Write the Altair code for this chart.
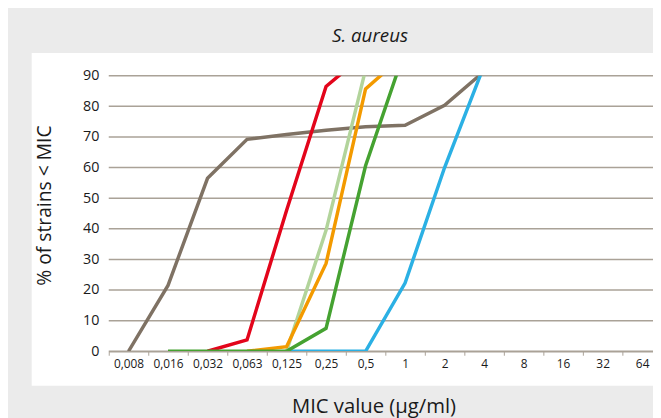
import altair as alt
import pandas as pd

categories = ["0,008", "0,016", "0,032", "0,063", "0,125", "0,25", "0,5",
              "1", "2", "4", "8", "16", "32", "64"]

series_names = ["brown", "blue", "lightgreen", "orange", "red", "green"]
series_colors = ["#7f7264", "#2bb0e4", "#b2d49b", "#f39a00", "#e3051b", "#45a231"]

brown = [0, 21.5, 56.5, 69.2, 70.8, 72.2, 73.3, 73.8, 80.3, 91.4, None, None, None, None]
blue = [None, None, None, None, 0, 0, 0, 22.3, 60, 93.3, None, None, None, None]
lightgreen = [None, None, None, None, 0, 39.5, 92, None, None, None, None, None, None, None]
orange = [None, None, None, 0, 1.5, 28.7, 85.7, 97, None, None, None, None, None, None]
red = [None, None, 0, 3.7, 46, 86.5, 97.3, None, None, None, None, None, None, None]
green = [None, 0, 0, 0, 0, 7.5, 60.6, 98.5, None, None, None, None, None, None]

series_values = [brown, blue, lightgreen, orange, red, green]

y_ticks = [0, 10, 20, 30, 40, 50, 60, 70, 80, 90]

FONT = "Open Sans"
GRID = "#aaa297"

rows = []
for name, vals in zip(series_names, series_values):
    for c, v in zip(categories, vals):
        if v is not None:
            rows.append({"series": name, "mic": c, "pct": v})
df = pd.DataFrame(rows)
grid_df = pd.DataFrame({"pct": y_ticks})

y_scale = alt.Scale(domain=[0, 90], nice=False)

x_axis = alt.Axis(
    title="MIC value (µg/ml)", titleFont=FONT, titleFontSize=20.5,
    titleFontWeight="normal", titleColor="#1a1a1a",
    titleX=268, titleY=62, titleAlign="center", titleBaseline="alphabetic",
    labelAngle=0, labelFont=FONT, labelFontSize=12, labelColor="#1a1a1a",
    labelPadding=3, tickBand="extent", tickSize=4, tickColor=GRID,
    domainColor=GRID, domainWidth=1.5, grid=False, zindex=1,
)
y_axis = alt.Axis(
    title="% of strains < MIC", titleFont=FONT, titleFontSize=19.5,
    titleFontWeight="normal", titleColor="#1a1a1a",
    titleX=-65, titleY=131, titleAlign="center", titleAngle=-90,
    titleBaseline="middle",
    values=y_ticks, labelFont=FONT, labelFontSize=14.5, labelColor="#1a1a1a",
    labelPadding=10, ticks=False, domain=False, grid=False, zindex=1,
)

x_enc = alt.X(
    "mic:N",
    sort=categories,
    bandPosition=0.5,
    scale=alt.Scale(type="band", domain=categories, range=[0, 560],
                    paddingInner=0, paddingOuter=0),
    axis=x_axis,
)
y_enc = alt.Y("pct:Q", scale=y_scale, axis=y_axis)

panel = alt.Chart(alt.Data(values=[{"a": 1}])).mark_rect(
    color="white", clip=False
).encode(
    x=alt.value(-78), x2=alt.value(560), y=alt.value(-23), y2=alt.value(314)
)

grid = alt.Chart(grid_df).mark_rule(color=GRID, strokeWidth=1.5, clip=False).encode(
    y=alt.Y("pct:Q", scale=y_scale, axis=y_axis),
    x=alt.value(0), x2=alt.value(560),
)

layers = [panel, grid]
for name, col in zip(series_names, series_colors):
    layers.append(
        alt.Chart(df).transform_filter(alt.datum.series == name)
        .mark_line(color=col, strokeWidth=3.5, clip=True, strokeJoin="miter")
        .encode(x=x_enc, y=y_enc)
    )

chart = alt.layer(*layers).properties(
    width=551,
    height=279,
    title=alt.TitleParams("S. aureus", font=FONT, fontSize=19, fontStyle="italic",
                          fontWeight="normal", color="#1a1a1a", anchor="middle",
                          dx=-11, offset=7),
    padding={"left": 102, "top": 66, "right": 0, "bottom": 65},
    autosize=alt.AutoSizeParams(type="none"),
).configure(
    background="#ebebeb",
).configure_view(
    stroke=None,
)

chart.save("out.html", embed_options={"renderer": "svg", "actions": False})
